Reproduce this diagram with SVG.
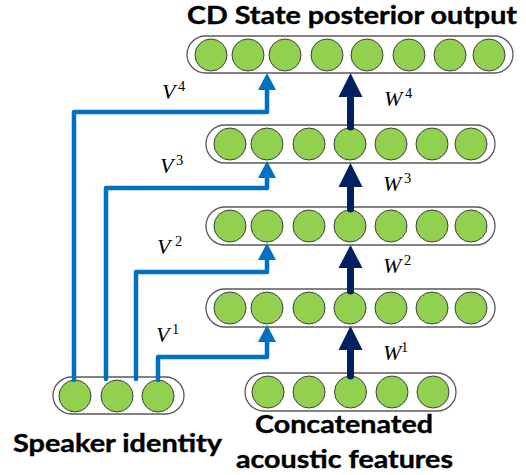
<svg xmlns="http://www.w3.org/2000/svg" width="526" height="475" viewBox="0 0 526 475">
<style>
.box{fill:#fff;stroke:#595959;stroke-width:1.3}
.n{fill:#92D050;stroke:#404040;stroke-width:1}
.blue{fill:none;stroke:#0070C0;stroke-width:4.5;stroke-linejoin:round;stroke-linecap:round}
.bh{fill:#0070C0}
.dark{fill:none;stroke:#002060;stroke-width:7;stroke-linecap:round}
.dh{fill:#002060}
.t{font-family:Lato,"Open Sans",sans-serif;font-weight:bold;font-size:25px;fill:#000;stroke:#000;stroke-width:0.4}
.v{font-family:"Liberation Serif",serif;font-style:italic;font-size:22px;fill:#000}
.s{font-family:"Liberation Serif",serif;font-size:14.5px;fill:#000}
</style>
<rect width="526" height="475" fill="#fff"/>
<g id="output">
<rect class="box" x="187" y="36" width="326" height="37" rx="18.5"/>
<circle class="n" cx="211" cy="55" r="16"/><circle class="n" cx="248" cy="55" r="16"/><circle class="n" cx="285" cy="55" r="16"/><circle class="n" cx="327" cy="55" r="16"/><circle class="n" cx="367" cy="55" r="16"/><circle class="n" cx="409" cy="55" r="16"/><circle class="n" cx="450" cy="55" r="16"/><circle class="n" cx="489" cy="55" r="16"/>
</g>
<g id="hidden3">
<rect class="box" x="206" y="125" width="289" height="38" rx="19"/>
<circle class="n" cx="230" cy="144" r="16"/><circle class="n" cx="267" cy="144" r="16"/><circle class="n" cx="309" cy="144" r="16"/><circle class="n" cx="350" cy="144" r="16"/><circle class="n" cx="391" cy="144" r="16"/><circle class="n" cx="432" cy="144" r="16"/><circle class="n" cx="471" cy="144" r="16"/>
</g>
<g id="hidden2">
<rect class="box" x="206" y="207" width="289" height="38" rx="19"/>
<circle class="n" cx="230" cy="226" r="16"/><circle class="n" cx="267" cy="226" r="16"/><circle class="n" cx="309" cy="226" r="16"/><circle class="n" cx="350" cy="226" r="16"/><circle class="n" cx="391" cy="226" r="16"/><circle class="n" cx="432" cy="226" r="16"/><circle class="n" cx="471" cy="226" r="16"/>
</g>
<g id="hidden1">
<rect class="box" x="206" y="289" width="289" height="38" rx="19"/>
<circle class="n" cx="230" cy="308" r="16"/><circle class="n" cx="267" cy="308" r="16"/><circle class="n" cx="309" cy="308" r="16"/><circle class="n" cx="350" cy="308" r="16"/><circle class="n" cx="391" cy="308" r="16"/><circle class="n" cx="432" cy="308" r="16"/><circle class="n" cx="471" cy="308" r="16"/>
</g>
<g id="input">
<rect class="box" x="245" y="373" width="211" height="38" rx="19"/>
<circle class="n" cx="268" cy="392" r="16"/><circle class="n" cx="309" cy="392" r="16"/><circle class="n" cx="350.5" cy="392" r="16"/><circle class="n" cx="392" cy="392" r="16"/><circle class="n" cx="433" cy="392" r="16"/>
</g>
<g id="speaker">
<rect class="box" x="53" y="377" width="131" height="37" rx="18.5"/>
<circle class="n" cx="75" cy="396" r="16"/><circle class="n" cx="117" cy="396" r="16"/><circle class="n" cx="158" cy="396" r="16"/>
</g>
<g id="connectors">
<path class="blue" d="M74 380 V112 H267 V89"/>
<polygon class="bh" points="258,90 276,90 267,73"/>
<path class="blue" d="M106 379 V188 H267 V177"/>
<polygon class="bh" points="258,178 276,178 267,161"/>
<path class="blue" d="M136 379 V272 H267 V259"/>
<polygon class="bh" points="258,260 276,260 267,243"/>
<path class="blue" d="M158 380 V357 H267 V341"/>
<polygon class="bh" points="258,342 276,342 267,325"/>
<path class="dark" d="M350.5 127 V96"/>
<polygon class="dh" points="338.5,97 362.5,97 350.5,73"/>
<path class="dark" d="M350.5 209 V186"/>
<polygon class="dh" points="338.5,187 362.5,187 350.5,163"/>
<path class="dark" d="M350.5 291 V267"/>
<polygon class="dh" points="338.5,268 362.5,268 350.5,245"/>
<path class="dark" d="M350.5 376 V349"/>
<polygon class="dh" points="338.5,350 362.5,350 350.5,326"/>
</g>
<g id="labels">
<text class="v" x="162" y="99">V</text><text class="s" x="178" y="91">4</text>
<text class="v" x="160" y="173">V</text><text class="s" x="176" y="165">3</text>
<text class="v" x="157" y="254">V</text><text class="s" x="175" y="246">2</text>
<text class="v" x="156" y="342">V</text><text class="s" x="172" y="334">1</text>
<text class="v" x="384" y="106">W</text><text class="s" x="405" y="98">4</text>
<text class="v" x="383" y="191">W</text><text class="s" x="404" y="183">3</text>
<text class="v" x="383" y="273">W</text><text class="s" x="404" y="265">2</text>
<text class="v" x="383" y="360">W</text><text class="s" x="401" y="352">1</text>
<text class="t" x="187" y="24" textLength="330" lengthAdjust="spacingAndGlyphs">CD State posterior output</text>
<text class="t" x="13" y="452" textLength="209" lengthAdjust="spacingAndGlyphs">Speaker identity</text>
<text class="t" x="255" y="433" textLength="178" lengthAdjust="spacingAndGlyphs">Concatenated</text>
<text class="t" x="236" y="468" textLength="217" lengthAdjust="spacingAndGlyphs">acoustic features</text>
</g>
</svg>
